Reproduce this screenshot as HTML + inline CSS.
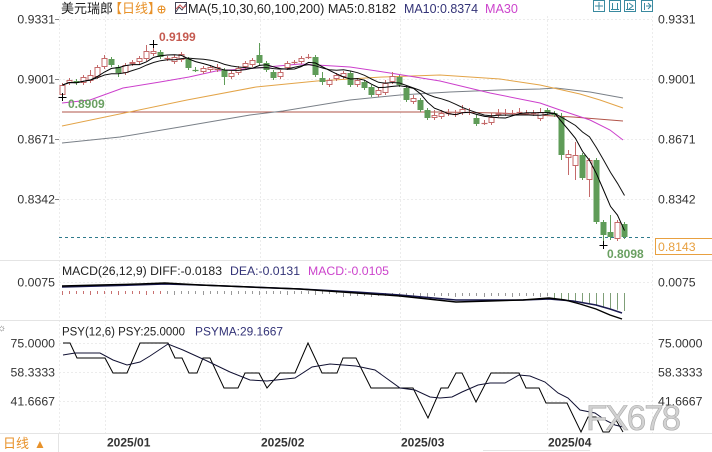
<!DOCTYPE html>
<html><head><meta charset="utf-8"><style>
html,body{margin:0;padding:0;background:#fff;}
svg{display:block;}
text{font-family:"Liberation Sans","Noto Sans CJK SC",sans-serif;}
</style></head><body>
<svg id="s" width="712" height="452" viewBox="0 0 712 452" xmlns="http://www.w3.org/2000/svg">
<rect x="0" y="0" width="712" height="452" fill="#fff"/>
<!-- grid -->
<g stroke="#ececec" stroke-width="1" stroke-dasharray="2,2" fill="none">
<line x1="105.5" y1="16" x2="105.5" y2="433"/>
<line x1="260.5" y1="16" x2="260.5" y2="433"/>
<line x1="400.5" y1="16" x2="400.5" y2="433"/>
<line x1="547.5" y1="16" x2="547.5" y2="433"/>
<line x1="59.5" y1="16" x2="59.5" y2="433"/>
<line x1="652.5" y1="16" x2="652.5" y2="433"/>
<line x1="59" y1="19.5" x2="652" y2="19.5"/>
<line x1="59" y1="79.5" x2="652" y2="79.5"/>
<line x1="59" y1="139.5" x2="652" y2="139.5"/>
<line x1="59" y1="199.5" x2="652" y2="199.5"/>
<line x1="59" y1="282.5" x2="652" y2="282.5"/>
<line x1="59" y1="343.5" x2="652" y2="343.5"/>
<line x1="59" y1="372.5" x2="652" y2="372.5"/>
<line x1="59" y1="401.5" x2="652" y2="401.5"/>
</g>
<g stroke="#e4e4e4" stroke-width="1">
<line x1="0" y1="260.5" x2="712" y2="260.5"/>
<line x1="0" y1="320.5" x2="712" y2="320.5"/>
<line x1="0" y1="433.5" x2="712" y2="433.5"/>
<line x1="58.5" y1="433" x2="58.5" y2="452"/>
<line x1="483" y1="450.5" x2="590" y2="450.5"/>
</g>
<g stroke="#888" stroke-width="1">
<line x1="55" y1="19.5" x2="59" y2="19.5"/>
<line x1="55" y1="79.5" x2="59" y2="79.5"/>
<line x1="55" y1="139.5" x2="59" y2="139.5"/>
<line x1="55" y1="199.5" x2="59" y2="199.5"/>
</g>

<!-- header legend -->
<text x="61" y="13" font-size="13" fill="#222">美元瑞郎</text>
<text x="109" y="13" font-size="13" fill="#e8922a">【日线】</text>
<g stroke="#e8922a" fill="none" stroke-width="1"><circle cx="161.5" cy="9.5" r="3.5"/><line x1="158" y1="9.5" x2="165" y2="9.5"/><line x1="161.5" y1="6" x2="161.5" y2="13"/></g>
<g fill="none" stroke="#445" stroke-width="1"><rect x="175.5" y="2.5" width="11" height="11"/><polyline points="176,12 179,7 182,10 186,4"/><polyline points="176,9 180,5 183,8 186,6" stroke="#c55"/></g>
<text x="188" y="13" font-size="12.6" fill="#222" textLength="208" lengthAdjust="spacingAndGlyphs">MA(5,10,30,60,100,200) MA5:0.8182</text>
<text x="404" y="13" font-size="12.6" fill="#333377" textLength="74" lengthAdjust="spacingAndGlyphs">MA10:0.8374</text>
<text x="485" y="13" font-size="12.6" fill="#cc44cc">MA30</text>
<!-- toolbar icons -->
<g fill="#fff" stroke="#3a8aa0" stroke-width="1">
<rect x="593.5" y="0.5" width="11" height="11"/>
<rect x="609.5" y="0.5" width="11" height="11"/>
<rect x="624.5" y="0.5" width="11" height="11"/>
<rect x="641.5" y="0.5" width="11" height="11"/>
</g>
<g stroke="#3a8aa0" stroke-width="1" fill="none">
<line x1="599" y1="2" x2="599" y2="10"/><line x1="595" y1="6" x2="603" y2="6"/>
<line x1="612.5" y1="3" x2="612.5" y2="10"/><line x1="617.5" y1="3" x2="617.5" y2="10"/><line x1="611" y1="9.5" x2="619" y2="9.5"/>
<line x1="627.5" y1="3" x2="627.5" y2="10"/><polyline points="629,3 633,6 629,9"/><line x1="626" y1="9.5" x2="634" y2="9.5"/>
<line x1="644.5" y1="3" x2="644.5" y2="10"/><polyline points="646,6 651,6"/><polyline points="648,3 651,6 648,9"/>
</g>

<!-- axis labels -->
<g font-size="12.3" fill="#333" text-anchor="end">
<text x="55" y="23.5">0.9331</text>
<text x="55" y="83.5">0.9001</text>
<text x="55" y="143.5">0.8671</text>
<text x="55" y="203.5">0.8342</text>
<text x="55" y="286.5">0.0075</text>
<text x="55" y="347.5">75.0000</text>
<text x="55" y="376.5">58.3333</text>
<text x="55" y="405.5">41.6667</text>
</g>
<g font-size="12.3" fill="#333">
<text x="658" y="23.5">0.9331</text>
<text x="658" y="83.5">0.9001</text>
<text x="658" y="143.5">0.8671</text>
<text x="658" y="203.5">0.8342</text>
<text x="658" y="286.5">0.0075</text>
<text x="658" y="347.5">75.0000</text>
<text x="658" y="376.5">58.3333</text>
<text x="658" y="405.5">41.6667</text>
</g>

<!-- MAs long -->
<g fill="none" stroke-width="1">
<polyline stroke="#b2554a" points="62,112 440,112 500,113 573,117 623,121"/>
<polyline stroke="#7a8088" points="62,143 120,137 180,127 250,115 283,111 350,100 400,95 450,92 500,90 540,89 556,88 590,92 623,98"/>
<polyline stroke="#e3a448" points="62,126 187,100 256,87 317,81 383,77 440,75 500,79 540,85 580,94 600,100 623,108"/>
<polyline stroke="#cc3fcc" points="62,103 90,100 123,88 160,82 189,77 216,71 256,68 300,64 350,67 390,73 440,81 490,93 540,103 560,110 590,120 610,130 623,140"/>
</g>

<line x1="59" y1="237.5" x2="652" y2="237.5" stroke="#2f7a8c" stroke-width="1" stroke-dasharray="3,3"/>

<g id="cand"></g>
<g id="mas" fill="none"></g>

<text x="159" y="41" font-size="12" font-weight="bold" fill="#c55a50">0.9199</text>
<text x="68" y="108" font-size="12" font-weight="bold" fill="#6aa062">0.8909</text>
<text x="607" y="258" font-size="12" font-weight="bold" fill="#6aa062">0.8098</text>
<rect x="655.5" y="238.5" width="60" height="16" fill="#fff" stroke="#e8a040" stroke-width="1"/>
<text x="658" y="251" font-size="12.3" fill="#e8a040">0.8143</text>

<!-- MACD panel -->
<text x="62" y="275" font-size="12.2" fill="#222" textLength="160" lengthAdjust="spacingAndGlyphs">MACD(26,12,9) DIFF:-0.0183</text>
<text x="230" y="275" font-size="12.2" fill="#333377" textLength="70" lengthAdjust="spacingAndGlyphs">DEA:-0.0131</text>
<text x="308" y="275" font-size="12.2" fill="#cc44cc" textLength="81" lengthAdjust="spacingAndGlyphs">MACD:-0.0105</text>
<g id="hist"></g>
<polyline fill="none" stroke="#1a1a50" stroke-width="1.6" points="62,287 100,286 165,284 200,285 250,287 300,289 356,292 400,295 456,300 523,300 549,299 573,301 596,305 610,309 622,313"/>
<polyline fill="none" stroke="#000" stroke-width="1.4" points="62,286 100,285 140,284 165,283 200,285 250,287 300,289 356,293 400,296 456,302 490,301 523,300 549,298 565,300 580,304 596,309 610,315 622,319"/>

<!-- PSY panel -->
<text x="62" y="335.5" font-size="12.2" fill="#222" textLength="123" lengthAdjust="spacingAndGlyphs">PSY(12,6) PSY:25.0000</text>
<text x="195" y="335.5" font-size="12.2" fill="#333377" textLength="88" lengthAdjust="spacingAndGlyphs">PSYMA:29.1667</text>
<text x="-3" y="331" font-size="10" fill="#666">☼</text>
<polyline fill="none" stroke="#000" stroke-width="1" points="63,343 70,343 77,358 105,358 113,373 127,373 140,343 168,343 175,358 182,358 189,373 197,373 203,358 210,358 224,388 238,388 245,373 259,373 267,388 280,373 295,373 308,343 322,373 337,373 343,358 356,358 371,388 413,388 428,418 441,388 448,388 456,373 462,373 476,402 491,373 519,373 526,388 539,388 546,403 567,403 581,432 588,417 596,417 603,432 609,432 616,420 623,432"/>
<polyline fill="none" stroke="#111133" stroke-width="1" points="63,355 75,353 100,353 113,360 127,365 140,362 150,356 168,344 183,350 205,360 230,372 250,380 267,381 295,378 312,367 330,364 356,366 375,370 400,388 415,390 430,397 440,398 452,397 462,392 478,385 490,383 505,383 519,375 530,376 545,382 558,393 568,398 580,410 595,413 605,420 615,425 623,427"/>

<text x="586" y="430" font-size="35" letter-spacing="-2" fill="#d2d2d2" stroke="#a8a8a8" stroke-width="0.6">FX678</text>

<!-- bottom axis -->
<text x="3" y="448" font-size="13" fill="#e8922a">日线</text>
<text x="34" y="448" font-size="12" fill="#e8922a">▲</text>
<g font-size="12" font-weight="bold" fill="#333">
<text x="107" y="446.5">2025/01</text>
<text x="261" y="446.5">2025/02</text>
<text x="401" y="446.5">2025/03</text>
<text x="548" y="446.5">2025/04</text>
</g>
</svg>
<script>
(function(){
var D=[[95,85,83,97],[83,80,78,85],[81,83,79,85],[83,77,75,85],[81,75,70,83],[77,67,65,79],[67,58,55,69],[59,65,57,67],[67,73,65,77],[73,65,63,75],
[64,62,60,66],[62,58,56,64],[59,51,45,61],[54,51,44,56],[52,57,50,59],[59,58,56,61],[62,57,55,64],[60,54,52,62],[59,68,57,70],[70,71,67,72],
[72,68,66,74],[70,67,65,72],[70,67,64,72],[70,77,68,85],[77,73,71,79],[73,68,66,75],[67,63,61,69],[65,60,58,67],[55,63,43,65],[63,70,61,72],
[72,78,70,80],[77,72,70,79],[68,63,61,70],[63,62,60,64],[62,58,56,64],[58,57,54,59],[57,75,55,77],[78,82,72,85],[85,80,78,87],[79,75,73,81],
[77,73,71,79],[73,85,71,87],[85,80,78,87],[82,88,80,90],[87,95,85,97],[95,90,88,97],[93,83,80,95],[82,76,72,84],[77,85,75,87],[88,100,86,102],
[102,98,95,104],[100,110,98,112],[110,118,108,120],[118,115,110,120],[117,113,110,119],[114,113,109,116],[115,114,110,117],[113,109,105,115],[113,112,108,115],[118,124,115,126],
[124,123,120,125],[123,117,113,125],[115,113,109,117],[114,113,109,116],[114,113,110,115],[113,112,108,115],[114,113,110,115],[114,113,110,116],[119,112,108,121],[110,113,108,115],
[113,115,111,117],[117,155,113,160],[158,154,150,175],[166,155,142,180],[155,178,153,180],[180,160,158,197],[160,222,158,224],[222,235,220,245],[232,237,215,240],[239,222,220,241],
[224,237,222,239]];
var NS="http://www.w3.org/2000/svg";
function el(t,a,p){var e=document.createElementNS(NS,t);for(var k in a)e.setAttribute(k,a[k]);p.appendChild(e);return e;}
var g=document.getElementById("cand"),h=document.getElementById("hist"),m=document.getElementById("mas");
var UP="#c46a6a",DN="#5f9c58";
var closes=[],xs=[];
for(var i=0;i<D.length;i++){
 var d=D[i],o=d[0],c=d[1],hi=d[2],lo=d[3];
 var cx=Math.round(62+i*7.025)+0.5;xs.push(cx);closes.push(c);
 var up=c<=o,col=up?UP:DN;
 var top=Math.min(o,c),bot=Math.max(o,c);
 el("line",{x1:cx,y1:hi,x2:cx,y2:top,stroke:col,"stroke-width":1},g);
 el("line",{x1:cx,y1:bot,x2:cx,y2:lo,stroke:col,"stroke-width":1},g);
 if(bot-top<1.5){el("line",{x1:cx-3,y1:top+0.5,x2:cx+3,y2:top+0.5,stroke:col,"stroke-width":1.2},g);}
 else if(up){el("rect",{x:cx-2.5,y:top+0.5,width:5,height:bot-top-1,fill:"#fff",stroke:col,"stroke-width":1},g);}
 else{el("rect",{x:cx-3,y:top,width:6,height:bot-top,fill:col},g);}
 var t,len;
 if(i<70){t=i<40?291:293;len=3+(i%4==0?1:0);} else {t=293;len=5+(i-70)*1.3;}
 var hc=i<15?"#c87070":(i>=70?"#7f9f78":"#999");
 el("line",{x1:cx,y1:t,x2:cx,y2:t+len,stroke:hc,"stroke-width":1},h);
}
[[xs[13],44],[xs[0],97],[xs[77],245]].forEach(function(p){el("line",{x1:p[0]-4,y1:p[1]+0.5,x2:p[0]+4,y2:p[1]+0.5,stroke:"#000","stroke-width":1},g);el("line",{x1:p[0],y1:p[1]-4,x2:p[0],y2:p[1]+4,stroke:"#000","stroke-width":1},g);});
function ma(n){var pts=[];for(var i=0;i<closes.length;i++){var s=0,k=0;for(var j=Math.max(0,i-n+1);j<=i;j++){s+=closes[j];k++;}pts.push(xs[i]+","+(s/k).toFixed(1));}return pts.join(" ");}
el("polyline",{points:ma(10),stroke:"#111",fill:"none","stroke-width":1},m);
el("polyline",{points:ma(5),stroke:"#000",fill:"none","stroke-width":1},m);
})();
</script>
</body></html>
